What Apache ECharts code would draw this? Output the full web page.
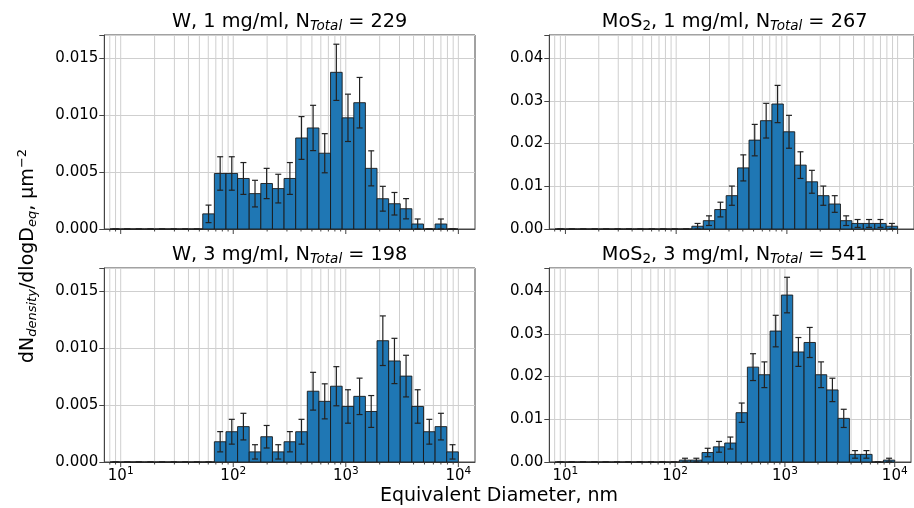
<!DOCTYPE html>
<html><head><meta charset="utf-8">
<script src="https://cdn.jsdelivr.net/npm/echarts@6/dist/echarts.min.js"></script>
<style>html,body{margin:0;padding:0;background:#fff}#c{width:914px;height:508px}</style>
</head><body><div id="c"></div>
<script>
// Bin edges (nm), 30 log-spaced bins
const binEdges = [8.00, 10.15, 12.87, 16.32, 20.70, 26.26, 33.30, 42.24, 53.57, 67.95,
  86.18, 109.3, 138.6, 175.8, 223.0, 282.9, 358.8, 455.0, 577.1, 732.0,
  928.4, 1177.5, 1493.5, 1894.2, 2402.5, 3047.1, 3864.7, 4901.7, 6216.9, 7885.0, 10000];

const panelTitles = [
  'W, 1 mg/ml, N{sub|Total} = 229',
  'MoS{s2|2}, 1 mg/ml, N{sub|Total} = 267',
  'W, 3 mg/ml, N{sub|Total} = 198',
  'MoS{s2|2}, 3 mg/ml, N{sub|Total} = 541'
];

const w1Values = [0,0,0,0,0,0,0,0, 0.00133,0.00488,0.00488,0.00444,0.00311,0.00400,0.00355,0.00444,
  0.00800,0.00888,0.00666,0.01377,0.00977,0.01110,0.00533,0.00266,0.00222,0.00178,0.00044,0,0.00044,0];
const w1Errors = [0,0,0,0,0,0,0,0, 0.00077,0.00147,0.00147,0.00140,0.00117,0.00133,0.00126,0.00140,
  0.00188,0.00199,0.00172,0.00247,0.00208,0.00222,0.00154,0.00109,0.00099,0.00089,0.00044,0,0.00044,0];

const m1Values = [0,0,0,0,0,0,0,0,0,0,0,0, 0.00065,0.00195,0.00455,0.00780,0.01430,0.02080,0.02535,0.02925,
  0.02275,0.01495,0.01105,0.00780,0.00585,0.00195,0.00130,0.00130,0.00130,0.00065];
const m1Errors = [0,0,0,0,0,0,0,0,0,0,0,0, 0.00065,0.00113,0.00172,0.00225,0.00305,0.00368,0.00406,0.00436,
  0.00385,0.00312,0.00268,0.00225,0.00195,0.00113,0.00092,0.00092,0.00092,0.00065];

const w3Values = [0,0,0,0,0,0,0,0,0, 0.00178,0.00266,0.00311,0.00089,0.00222,0.00089,0.00178,0.00266,
  0.00622,0.00533,0.00666,0.00488,0.00577,0.00444,0.01066,0.00888,0.00755,0.00488,0.00266,0.00311,0.00089];
const w3Errors = [0,0,0,0,0,0,0,0,0, 0.00089,0.00109,0.00117,0.00063,0.00099,0.00063,0.00089,0.00109,
  0.00166,0.00154,0.00172,0.00147,0.00160,0.00140,0.00218,0.00199,0.00183,0.00147,0.00109,0.00117,0.00063];

const m3Values = [0,0,0,0,0,0,0,0,0,0,0, 0.00044,0.00044,0.00222,0.00355,0.00444,0.01154,0.02220,0.02042,
  0.03064,0.03907,0.02575,0.02797,0.02042,0.01687,0.01021,0.00178,0.00178,0,0.00044];
const m3Errors = [0,0,0,0,0,0,0,0,0,0,0, 0.00044,0.00044,0.00099,0.00126,0.00140,0.00226,0.00314,0.00301,
  0.00369,0.00416,0.00338,0.00352,0.00301,0.00274,0.00213,0.00089,0.00089,0,0.00044];

const gridLineValues = [8,9,10,20,30,40,50,60,70,80,90,100,200,300,400,500,600,700,800,900,
  1000,2000,3000,4000,5000,6000,7000,8000,9000,10000];

const xRange = [7.15, 14060];
const yMaxLeft = 0.01705, yMaxRight = 0.0454;

const FONT = 'DejaVu Sans';
const panels = [
  {vals: w1Values, errs: w1Errors, left: 104.3, top: 35, ymax: yMaxLeft, step: 0.005, dec: 3, xlabels: false},
  {vals: m1Values, errs: m1Errors, left: 549.3, top: 35, ymax: yMaxRight, step: 0.01, dec: 2, xlabels: false},
  {vals: w3Values, errs: w3Errors, left: 104.3, top: 268, ymax: yMaxLeft, step: 0.005, dec: 3, xlabels: true},
  {vals: m3Values, errs: m3Errors, left: 549.3, top: 268, ymax: yMaxRight, step: 0.01, dec: 2, xlabels: true}
];
const GW = 370.7, GH = 194;

const grids = [], xAxes = [], yAxes = [], series = [], graphics = [];
panels.forEach((p, i) => {
  grids.push({left: p.left, top: p.top, width: GW, height: GH, show: true, borderColor: '#444', borderWidth: 1, backgroundColor: 'transparent', containLabel: false});
  xAxes.push({
    type: 'log', logBase: 10, gridIndex: i, min: xRange[0], max: xRange[1],
    axisLine: {show: true, lineStyle: {color: '#444', width: 1}},
    axisTick: {show: false}, splitLine: {show: false},
    axisLabel: {
      show: p.xlabels, margin: 4, color: '#000', fontFamily: FONT, fontSize: 15,
      formatter: v => { const l = Math.log10(v), r = Math.round(l); return Math.abs(l - r) < 1e-6 ? '10{s|' + r + '}' : ''; },
      rich: {s: {fontSize: 10.5, fontFamily: FONT, color: '#000', padding: [0, 0, 9, 0]}}
    }
  });
  yAxes.push({
    type: 'value', gridIndex: i, min: 0, max: p.ymax, interval: p.step,
    axisLine: {show: true, lineStyle: {color: '#444', width: 1}},
    axisTick: {show: true, inside: false, length: 5, lineStyle: {color: '#444'}},
    splitLine: {show: true, lineStyle: {color: '#cfcfcf', width: 1}},
    axisLabel: {
      margin: 6, color: '#000', fontFamily: FONT, fontSize: 15,
      formatter: v => { const q = v / p.step; return Math.abs(q - Math.round(q)) < 1e-6 ? v.toFixed(p.dec) : ''; }
    }
  });
  // vertical grid lines (major + minor) and x ticks
  series.push({
    type: 'custom', xAxisIndex: i, yAxisIndex: i, z: 1, silent: true,
    data: gridLineValues.map(v => [v, 0]),
    encode: {x: 0, y: 1},
    renderItem: (params, api) => {
      const v = api.value(0);
      const cs = params.coordSys;
      const x = api.coord([v, 0])[0];
      const l = Math.log10(v);
      const major = Math.abs(l - Math.round(l)) < 1e-6;
      return {type: 'group', children: [
        {type: 'line', shape: {x1: x, y1: cs.y, x2: x, y2: cs.y + cs.height}, style: {stroke: '#cfcfcf', lineWidth: 1}},
        {type: 'line', shape: {x1: x, y1: cs.y + cs.height, x2: x, y2: cs.y + cs.height + (major ? 5 : 2.5)}, style: {stroke: '#444', lineWidth: 1}}
      ]};
    }
  });
  // histogram bars with error bars
  series.push({
    type: 'custom', xAxisIndex: i, yAxisIndex: i, z: 3, silent: true,
    data: p.vals.map((h, k) => [binEdges[k], binEdges[k + 1], h, p.errs[k]]),
    encode: {x: [0, 1], y: [2]},
    renderItem: (params, api) => {
      const x0 = api.value(0), x1 = api.value(1), h = api.value(2), e = api.value(3);
      const pa = api.coord([x0, 0]), pb = api.coord([x1, h]);
      const xc = (pa[0] + pb[0]) / 2;
      const yLo = api.coord([x0, Math.max(0, h - e)])[1], yHi = api.coord([x0, h + e])[1];
      return {type: 'group', children: [
        {type: 'rect', shape: {x: pa[0], y: pb[1], width: pb[0] - pa[0], height: pa[1] - pb[1]},
          style: {fill: '#1f77b4', stroke: '#1a1a1a', lineWidth: 0.9}},
        {type: 'line', shape: {x1: xc, y1: yLo, x2: xc, y2: yHi}, style: {stroke: '#222', lineWidth: 1.2}},
        {type: 'line', shape: {x1: xc - 3, y1: yLo, x2: xc + 3, y2: yLo}, style: {stroke: '#222', lineWidth: 1.2}},
        {type: 'line', shape: {x1: xc - 3, y1: yHi, x2: xc + 3, y2: yHi}, style: {stroke: '#222', lineWidth: 1.2}}
      ]};
    }
  });
  graphics.push({
    type: 'text', x: p.left + GW / 2, y: p.top - 13,
    style: {text: panelTitles[i], fontFamily: FONT, fontSize: 19.3, fill: '#000', align: 'center', verticalAlign: 'middle',
      rich: {
        sub: {fontFamily: FONT, fontSize: 13.5, fontStyle: 'italic', fill: '#000', padding: [9, 0, 0, 0]},
        s2: {fontFamily: FONT, fontSize: 13.5, fill: '#000', padding: [9, 0, 0, 0]}
      }}
  });
});

graphics.push({
  type: 'text', x: 499, y: 496,
  style: {text: 'Equivalent Diameter, nm', fontFamily: FONT, fontSize: 19, fill: '#000', align: 'center', verticalAlign: 'middle'}
});
graphics.push({
  type: 'text', x: 28, y: 256, rotation: Math.PI / 2,
  style: {text: 'dN{sub|density}/dlogD{sub|eq}, μm{sup|−2}', fontFamily: FONT, fontSize: 19, fill: '#000', align: 'center', verticalAlign: 'middle',
    rich: {
      sub: {fontFamily: FONT, fontSize: 13, fontStyle: 'italic', fill: '#000', padding: [9, 0, 0, 0]},
      sup: {fontFamily: FONT, fontSize: 13, fill: '#000', padding: [0, 0, 10, 0]}
    }}
});

const chart = echarts.init(document.getElementById('c'), null, {renderer: 'canvas'});
chart.setOption({
  animation: false,
  backgroundColor: '#fff',
  grid: grids, xAxis: xAxes, yAxis: yAxes, series: series, graphic: graphics
});
</script>
</body></html>
